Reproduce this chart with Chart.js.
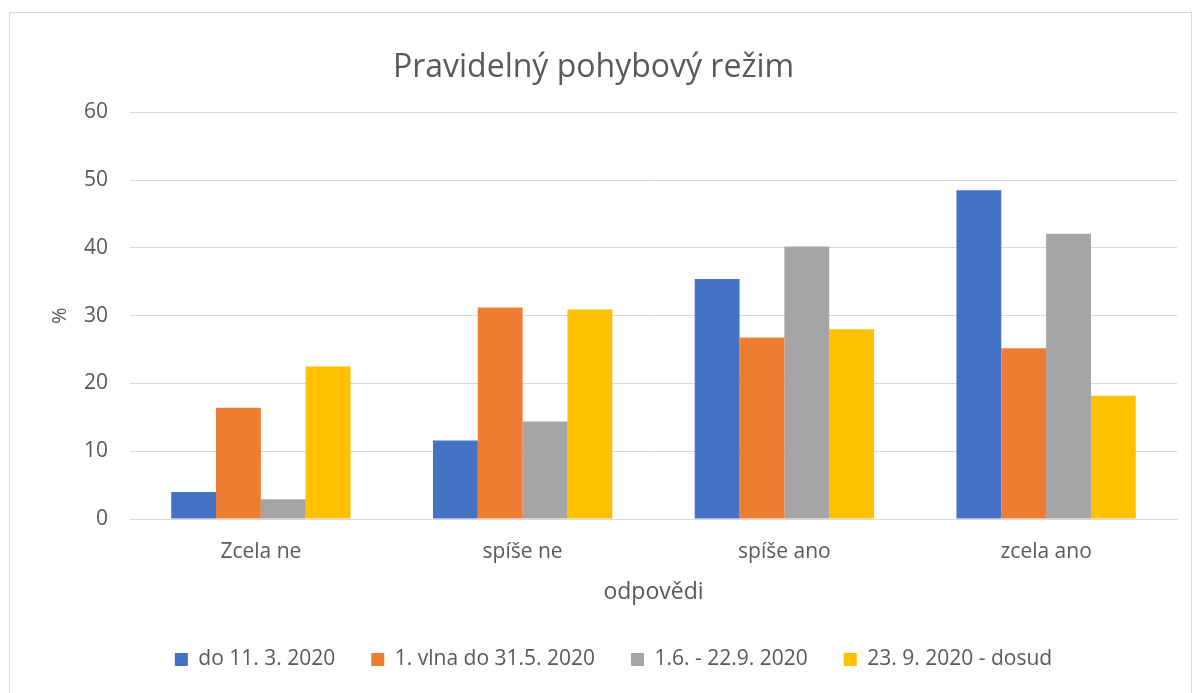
<!DOCTYPE html>
<html lang="cs">
<head>
<meta charset="utf-8">
<title>Pravidelný pohybový režim</title>
<script src="https://cdn.jsdelivr.net/npm/chart.js@4.4.1/dist/chart.umd.min.js"></script>
<style>
  html, body { margin: 0; padding: 0; background: #fff; overflow: hidden; }
  #wrap { position: absolute; left: 0; top: 0; width: 1192px; height: 693px; }
  #ramecek { position: absolute; left: 9px; top: 12px; width: 1181px; height: 700px;
    border: 1px solid #d9d9d9; pointer-events: none; }
</style>
</head>
<body>
<div id="wrap"><canvas id="graf"></canvas></div>
<div id="ramecek"></div>
<script>
// kategorie odpovědí
const odpovedi = ['Zcela ne', 'spíše ne', 'spíše ano', 'zcela ano'];

// období (legenda)
const obdobi = ['do 11. 3. 2020', '1. vlna do 31.5. 2020', '1.6. - 22.9. 2020', '23. 9. 2020 - dosud'];

// hodnoty v %
const doBrezna = [4.0, 11.6, 35.4, 48.5];
const prvniVlna = [16.4, 31.2, 26.8, 25.2];
const leto = [2.9, 14.4, 40.2, 42.1];
const odZari = [22.5, 30.9, 28.0, 18.2];

// popisky osy y
const osaY = [0, 10, 20, 30, 40, 50, 60];

const barvy = ['#4472c4', '#ed7d31', '#a5a5a5', '#ffc000'];

const sedaText = '#595959';
const pismo = "'Open Sans', sans-serif";

const hodnoty = [doBrezna, prvniVlna, leto, odZari];

const datasety = obdobi.map(function (nazev, i) {
    return {
        label: nazev,
        data: hodnoty[i],
        backgroundColor: barvy[i],
        borderWidth: 0,
        categoryPercentage: 0.685,
        barPercentage: 1.0
    };
});

// posun legendy trochu doprava (v Excelu není přesně na středu)
const posunLegendy = {
    id: 'posunLegendy',
    afterLayout: function (chart) {
        chart.legend.left += 20;
        chart.legend.right += 20;
    }
};

let graf = new Chart(document.getElementById('graf'), {
    type: 'bar',
    data: {
        labels: odpovedi,
        datasets: datasety
    },
    plugins: [posunLegendy],
    options: {
        responsive: true,
        maintainAspectRatio: false,
        animation: false,
        layout: {
            padding: { top: 13, left: 10, right: 15, bottom: 13 }
        },
        scales: {
            x: {
                grid: { display: false, drawTicks: false },
                border: { color: '#d9d9d9' },
                ticks: {
                    color: sedaText,
                    font: { family: pismo, size: 21 },
                    padding: 20
                },
                title: {
                    display: true,
                    text: 'odpovědi',
                    color: sedaText,
                    font: { family: pismo, size: 23 },
                    padding: { top: 10, bottom: 7 }
                },
                // pevná výška osy x
                afterFit: function (scale) {
                    scale.height = 94;
                }
            },
            y: {
                min: osaY[0],
                max: osaY[osaY.length - 1],
                afterBuildTicks: function (scale) {
                    scale.ticks = osaY.map(function (v) { return { value: v }; });
                },
                ticks: {
                    color: sedaText,
                    font: { family: pismo, size: 21 },
                    padding: 22
                },
                grid: {
                    color: '#d9d9d9',
                    drawTicks: false
                },
                border: { display: false },
                title: {
                    display: true,
                    text: '%',
                    color: sedaText,
                    font: { family: pismo, size: 20 },
                    padding: { top: 38, bottom: 0 }
                },
                // pevná šířka osy y
                afterFit: function (scale) {
                    scale.width = 120;
                }
            }
        },
        plugins: {
            title: {
                display: true,
                text: 'Pravidelný pohybový režim',
                color: sedaText,
                font: { family: pismo, size: 32, weight: 'normal' },
                padding: { top: 36, bottom: 25 }
            },
            legend: {
                position: 'bottom',
                labels: {
                    color: sedaText,
                    font: { family: pismo, size: 21 },
                    boxWidth: 13,
                    boxHeight: 13,
                    padding: 36
                }
            },
            tooltip: { enabled: false }
        }
    }
});
</script>
</body>
</html>
